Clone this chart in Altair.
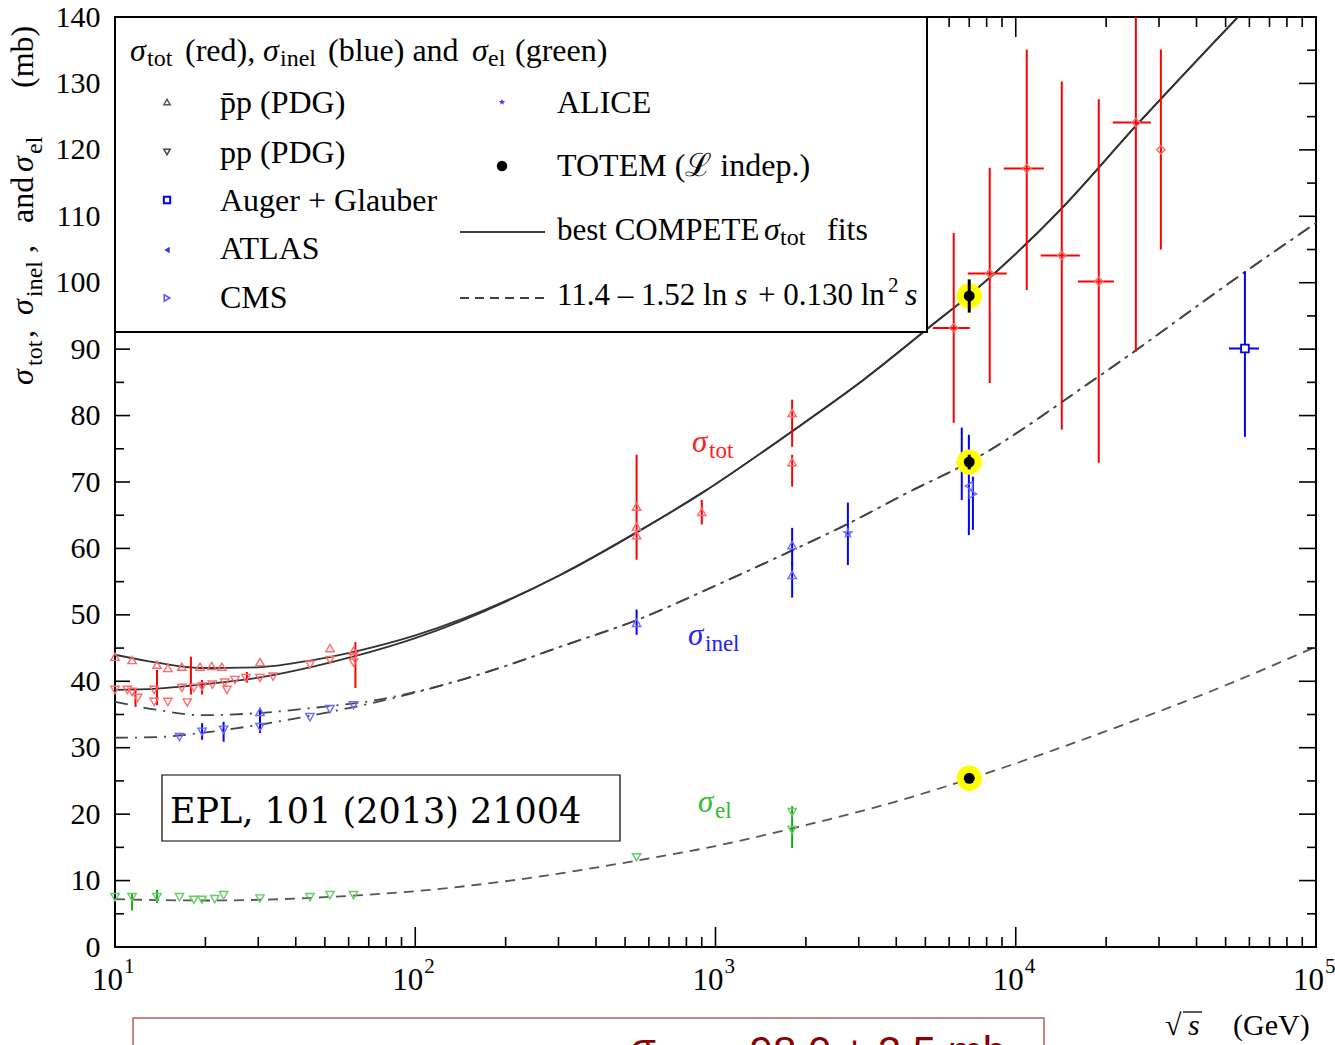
import altair as alt
import pandas as pd

W, H = 1201, 930          # plot area (px)
SERIF = "Liberation Serif"

# ---------------- fitted curves (sqrt(s) in GeV, cross sections in mb) ----------------
tot_fit_s = [10, 13.8, 19.2, 29.7, 45.7, 62, 100, 304, 541, 905, 1820, 3115,
             5290, 7000, 14230, 25120, 54950]
tot_fit_pbarp = [44.0, 42.8, 42.0, 42.1, 43.2, 44.4, 46.9, 56.0, 62.3, 68.4,
                 77.8, 85.4, 93.7, 98.1, 111.2, 123.6, 140.0]
tot_fit_pp = [38.7, 38.9, 39.5, 40.5, 42.2, 43.7, 46.5, 56.0, 62.3, 68.4,
              77.8, 85.4, 93.7, 98.1, 111.2, 123.6, 140.0]

inel_fit_s = [10, 13.8, 19.2, 29.7, 45.7, 74.7, 100, 200, 304, 546, 1000, 1820, 2818,
              4365, 7000, 18760, 57500, 100000]
inel_fit_pbarp = [36.9, 35.7, 34.9, 35.2, 36.0, 37.2, 38.4, 42.3, 45.2, 49.2, 54.4, 59.8,
                  63.9, 68.4, 73.0, 85.8, 101.5, 109.0]
inel_fit_pp = [31.5, 31.6, 32.2, 33.4, 34.9, 36.9, 38.3, 42.3, 45.2, 49.2, 54.4, 59.8,
               63.9, 68.4, 73.0, 85.8, 101.5, 109.0]

el_fit_s = [10, 20, 30, 50, 100, 200, 546, 1000, 1820, 4140, 7000, 19190, 50000, 100000]
el_fit = [7.2, 7.0, 7.1, 7.5, 8.4, 9.9, 13.0, 15.2, 17.9, 22.1, 25.3, 32.2, 39.4, 45.2]

# ---------------- measurements ----------------
# sigma_tot, pbar-p
tot_pbarp_s = [10, 11.4, 13.8, 15.0, 16.7, 19.2, 21.0, 22.7, 30.4, 52.0, 62.3,
               546, 546, 546, 900, 1800, 1800]
tot_pbarp_v = [43.7, 43.2, 42.5, 42.0, 42.2, 42.2, 42.3, 42.2, 42.9, 45.0, 44.6,
               66.3, 63.3, 62.0, 65.5, 80.4, 73.0]
# sigma_tot, p-p
tot_pp_s = [10, 11.0, 11.4, 11.9, 13.5, 13.5, 15.0, 16.7, 17.4, 18.3, 19.5, 21.1, 23.2,
            23.6, 25.1, 27.3, 30.4, 33.6, 44.6, 52.0, 62.3, 62.3]
tot_pp_v = [38.7, 38.7, 38.4, 37.5, 38.7, 36.9, 36.9, 39.0, 36.8, 39.0, 39.2, 39.5, 39.8,
            38.7, 40.2, 40.5, 40.5, 40.7, 42.5, 43.2, 43.7, 42.8]
tot_err_s = [11.7, 13.8, 17.9, 19.5, 27.5, 63.2, 546, 900, 1800, 1800]
tot_err_lo = [36.4, 36.4, 38.0, 38.0, 39.8, 39.0, 58.3, 63.6, 75.3, 69.3]
tot_err_hi = [39.0, 41.7, 43.7, 40.2, 41.4, 45.9, 74.1, 67.3, 82.4, 74.1]

# sigma_tot from cosmic rays (with energy ranges)
cr_s = [6215, 8190, 10880, 14230, 18900, 25120, 30430]
cr_v = [93.2, 101.4, 117.2, 104.1, 100.2, 124.1, 120.0]
cr_s_lo = [5290, 6920, 9120, 12110, 16100, 21040, 30430]
cr_s_hi = [7030, 9330, 12400, 16340, 21230, 28180, 30430]
cr_v_lo = [78.9, 84.9, 98.9, 77.9, 72.9, 89.6, 105.0]
cr_v_hi = [107.5, 117.3, 135.1, 130.3, 127.6, 140.0, 135.1]

# sigma_inel
inel_pp_s = [16.4, 19.5, 23.0, 30.4, 44.6, 52.0, 62.3]
inel_pp_v = [31.6, 32.4, 32.7, 33.1, 34.6, 35.8, 36.4]
inel_pbarp_s = [30.4, 546, 1800, 1800]
inel_pbarp_v = [35.4, 48.8, 60.5, 56.0]
inel_err_s = [19.5, 23.0, 30.4, 546, 1800, 1800]
inel_err_lo = [31.2, 30.9, 32.2, 47.0, 57.5, 52.6]
inel_err_hi = [33.7, 33.9, 36.0, 50.8, 63.1, 58.0]
alice_s, alice_v, alice_lo, alice_hi = [2760, 6610], [62.3, 72.7], [57.5, 67.3], [66.9, 78.2]
atlas_s, atlas_v, atlas_lo, atlas_hi = [6980], [69.4], [62.0], [77.1]
cms_s, cms_v, cms_lo, cms_hi = [7200], [68.2], [62.8], [70.8]
auger_s, auger_v = [57980], [90.1]
auger_s_lo, auger_s_hi = [51300], [64570]
auger_v_lo, auger_v_hi = [76.8], [101.7]

# sigma_el
el_s = [10, 11.4, 13.8, 16.4, 18.3, 19.5, 21.5, 23.0, 30.4, 44.6, 52.0, 62.3, 546, 1800, 1800]
el_v = [7.5, 7.5, 7.5, 7.5, 7.1, 7.1, 7.2, 7.8, 7.3, 7.5, 7.8, 7.8, 13.5, 20.3, 17.6]
el_err_s = [11.4, 13.8, 1800]
el_err_lo = [5.5, 6.6, 14.9]
el_err_hi = [8.1, 8.6, 21.2]

# TOTEM (luminosity independent), 7 TeV
totem_s = [7000, 7000, 7000]
totem_v = [98.0, 73.0, 25.4]
totem_lo = [95.5, 71.9, 24.9]
totem_hi = [100.5, 74.1, 25.9]

# axis ticks
x_major = [10, 100, 1000, 10000, 100000]
x_exp = ["1", "2", "3", "4", "5"]
x_minor = [m * 10 ** d for d in range(1, 5) for m in range(2, 10)]
y_major = list(range(0, 141, 10))
y_minor = list(range(5, 140, 10))

RED, PINK = "#ff0000", "#ff6b6b"
BLUE, LBLUE = "#0000ff", "#6b6bff"
GREEN, LGREEN = "#11aa11", "#66cc66"
STAR = "M0,-1L0.2245,-0.309L0.951,-0.309L0.363,0.118L0.588,0.809L0,0.382L-0.588,0.809L-0.363,0.118L-0.951,-0.309L-0.2245,-0.309Z"

# ---------------- tables ----------------
curves = pd.concat([
    pd.DataFrame({"s": tot_fit_s, "v": tot_fit_pbarp, "branch": "tot_pbarp", "kind": "tot"}),
    pd.DataFrame({"s": tot_fit_s, "v": tot_fit_pp, "branch": "tot_pp", "kind": "tot"}),
    pd.DataFrame({"s": inel_fit_s, "v": inel_fit_pbarp, "branch": "inel_pbarp", "kind": "inel"}),
    pd.DataFrame({"s": inel_fit_s, "v": inel_fit_pp, "branch": "inel_pp", "kind": "inel"}),
    pd.DataFrame({"s": el_fit_s, "v": el_fit, "branch": "el", "kind": "el"}),
], ignore_index=True)

vbars = pd.concat([
    pd.DataFrame({"s": tot_err_s, "lo": tot_err_lo, "hi": tot_err_hi, "col": RED}),
    pd.DataFrame({"s": cr_s, "lo": cr_v_lo, "hi": cr_v_hi, "col": RED}),
    pd.DataFrame({"s": inel_err_s, "lo": inel_err_lo, "hi": inel_err_hi, "col": BLUE}),
    pd.DataFrame({"s": alice_s, "lo": alice_lo, "hi": alice_hi, "col": BLUE}),
    pd.DataFrame({"s": atlas_s, "lo": atlas_lo, "hi": atlas_hi, "col": BLUE}),
    pd.DataFrame({"s": cms_s, "lo": cms_lo, "hi": cms_hi, "col": BLUE}),
    pd.DataFrame({"s": auger_s, "lo": auger_v_lo, "hi": auger_v_hi, "col": BLUE}),
    pd.DataFrame({"s": el_err_s, "lo": el_err_lo, "hi": el_err_hi, "col": GREEN}),
], ignore_index=True)

hbars = pd.concat([
    pd.DataFrame({"lo": cr_s_lo, "hi": cr_s_hi, "v": cr_v, "col": RED}),
    pd.DataFrame({"lo": auger_s_lo, "hi": auger_s_hi, "v": auger_v, "col": BLUE}),
], ignore_index=True)

markers = pd.concat([
    pd.DataFrame({"s": tot_pbarp_s, "v": tot_pbarp_v, "shape": "triangle-up", "col": PINK}),
    pd.DataFrame({"s": tot_pp_s, "v": tot_pp_v, "shape": "triangle-down", "col": PINK}),
    pd.DataFrame({"s": cr_s, "v": cr_v, "shape": "diamond", "col": PINK}),
    pd.DataFrame({"s": inel_pp_s, "v": inel_pp_v, "shape": "triangle-down", "col": LBLUE}),
    pd.DataFrame({"s": inel_pbarp_s, "v": inel_pbarp_v, "shape": "triangle-up", "col": LBLUE}),
    pd.DataFrame({"s": alice_s, "v": alice_v, "shape": STAR, "col": LBLUE}),
    pd.DataFrame({"s": atlas_s, "v": atlas_v, "shape": "triangle-left", "col": LBLUE}),
    pd.DataFrame({"s": cms_s, "v": cms_v, "shape": "triangle-right", "col": LBLUE}),
    pd.DataFrame({"s": el_s, "v": el_v, "shape": "triangle-down", "col": LGREEN}),
], ignore_index=True)

auger = pd.DataFrame({"s": auger_s, "v": auger_v})
totem = pd.DataFrame({"s": totem_s, "v": totem_v, "lo": totem_lo, "hi": totem_hi})

# ---------------- scales / encodings ----------------
xs = alt.Scale(type="log", domain=[10, 100000], nice=False)
ys = alt.Scale(domain=[0, 140], nice=False, zero=False)
yaxis = alt.Axis(values=y_major, ticks=False, domain=False, grid=False,
                 labelFont=SERIF, labelFontSize=30, labelColor="black",
                 labelPadding=15, labelFlush=False, labelOverlap=False)


def X(f="s"):
    return alt.X(f"{f}:Q", scale=xs, axis=None)


def Y(f="v"):
    return alt.Y(f"{f}:Q", scale=ys, axis=yaxis, title=None)


layers = []

# fit curves
layers.append(alt.Chart(curves[curves.kind == "tot"]).mark_line(
    color="#333333", strokeWidth=1.8, interpolate="monotone", clip=True
).encode(x=X(), y=Y(), detail="branch:N"))
layers.append(alt.Chart(curves[curves.kind == "inel"]).mark_line(
    color="#444444", strokeWidth=1.8, strokeDash=[13, 7, 2, 7], interpolate="monotone", clip=True
).encode(x=X(), y=Y(), detail="branch:N"))
layers.append(alt.Chart(curves[curves.kind == "el"]).mark_line(
    color="#555555", strokeWidth=1.8, strokeDash=[10, 7], interpolate="monotone", clip=True
).encode(x=X(), y=Y(), detail="branch:N"))

# error bars
layers.append(alt.Chart(vbars).mark_rule(strokeWidth=2, clip=True).encode(
    x=X(), y=Y("lo"), y2="hi:Q", color=alt.Color("col:N", scale=None)))
layers.append(alt.Chart(hbars).mark_rule(strokeWidth=2, clip=True).encode(
    x=X("lo"), x2="hi:Q", y=Y(), color=alt.Color("col:N", scale=None)))

# data markers
layers.append(alt.Chart(markers).mark_point(filled=False, size=70, strokeWidth=1.4, opacity=1).encode(
    x=X(), y=Y(), shape=alt.Shape("shape:N", scale=None), color=alt.Color("col:N", scale=None)))
layers.append(alt.Chart(auger).mark_point(shape="square", filled=True, fill="white", stroke=BLUE,
                                          strokeWidth=1.8, size=60, opacity=1).encode(x=X(), y=Y()))

# TOTEM points highlighted
layers.append(alt.Chart(totem).mark_circle(color="#ffff00", size=640, opacity=1).encode(x=X(), y=Y()))
layers.append(alt.Chart(totem).mark_rule(color="black", strokeWidth=3).encode(x=X(), y=Y("lo"), y2="hi:Q"))
layers.append(alt.Chart(totem).mark_circle(color="black", size=120, opacity=1).encode(x=X(), y=Y()))

# ticks on all four sides, pointing inwards
xmaj = pd.DataFrame({"s": x_major, "exp": x_exp})
xmin = pd.DataFrame({"s": x_minor})
ymaj = pd.DataFrame({"v": y_major})
ymin = pd.DataFrame({"v": y_minor})
TK = dict(color="black", strokeWidth=1.6)
layers += [
    alt.Chart(xmaj).mark_rule(**TK).encode(x=X(), y=alt.value(H), y2=alt.value(H - 20)),
    alt.Chart(xmin).mark_rule(**TK).encode(x=X(), y=alt.value(H), y2=alt.value(H - 10)),
    alt.Chart(xmaj).mark_rule(**TK).encode(x=X(), y=alt.value(0), y2=alt.value(20)),
    alt.Chart(xmin).mark_rule(**TK).encode(x=X(), y=alt.value(0), y2=alt.value(10)),
    alt.Chart(ymaj).mark_rule(**TK).encode(y=Y(), x=alt.value(0), x2=alt.value(15)),
    alt.Chart(ymin).mark_rule(**TK).encode(y=Y(), x=alt.value(0), x2=alt.value(9)),
    alt.Chart(ymaj).mark_rule(**TK).encode(y=Y(), x=alt.value(W), x2=alt.value(W - 17)),
    alt.Chart(ymin).mark_rule(**TK).encode(y=Y(), x=alt.value(W), x2=alt.value(W - 9)),
]

# x tick labels 10^n
layers.append(alt.Chart(xmaj).mark_text(align="right", baseline="alphabetic", dx=8, font=SERIF,
                                        fontSize=31, color="black").encode(
    x=X(), y=alt.value(H + 43), text=alt.value("10")))
layers.append(alt.Chart(xmaj).mark_text(align="left", baseline="alphabetic", dx=9, font=SERIF,
                                        fontSize=21, color="black").encode(
    x=X(), y=alt.value(H + 26), text="exp:N"))

one = pd.DataFrame({"k": [0]})


def txt(t, x, y, size=32, style="normal", color="black", font=SERIF, angle=0):
    return alt.Chart(one).mark_text(text=t, font=font, fontSize=size, fontStyle=style, color=color,
                                    angle=angle, align="left", baseline="alphabetic").encode(
        x=alt.value(x), y=alt.value(y))


def box(x, x2, y, y2, stroke="black", sw=2, fill="white"):
    return alt.Chart(one).mark_rect(fill=fill, stroke=stroke, strokeWidth=sw, opacity=1).encode(
        x=alt.value(x), x2=alt.value(x2), y=alt.value(y), y2=alt.value(y2))


def sym(x, y, shape, color, filled=False, size=45, sw=1.5):
    return alt.Chart(one).mark_point(shape=shape, filled=filled, color=color, size=size,
                                     strokeWidth=sw, opacity=1).encode(x=alt.value(x), y=alt.value(y))


# curve labels inside the plot
layers += [
    txt("σ", 577, 435, size=31, style="italic", color="#ff2020"),
    txt("tot", 594, 441, size=23, color="#ff2020"),
    txt("σ", 573, 628, size=31, style="italic", color="#2222ff"),
    txt("inel", 590, 634, size=23, color="#2222ff"),
    txt("σ", 583, 795, size=31, style="italic", color="#33bb33"),
    txt("el", 600, 801, size=23, color="#33bb33"),
]

# legend box
layers.append(box(0, 812, 0, 315))
layers += [
    txt("σ", 15, 44, style="italic"), txt("tot", 32, 49, size=24), txt("(red),", 70, 44),
    txt("σ", 148, 44, style="italic"), txt("inel", 165, 49, size=24), txt("(blue) and", 213, 44),
    txt("σ", 357, 44, style="italic"), txt("el", 373, 49, size=24), txt("(green)", 400, 44),
    txt("p\u0304p (PDG)", 105, 96), txt("pp (PDG)", 105, 146), txt("Auger + Glauber", 105, 194),
    txt("ATLAS", 105, 242), txt("CMS", 105, 291),
    txt("ALICE", 442, 96), txt("TOTEM (ℒ indep.)", 442, 159),
    txt("best COMPETE", 442, 223, size=31), txt("σ", 649, 223, style="italic"),
    txt("tot", 665, 228, size=24), txt("fits", 712, 223),
    txt("11.4 – 1.52 ln", 442, 288, size=31), txt("s", 620, 288, style="italic"),
    txt("+ 0.130 ln", 643, 288, size=31),
    txt("2", 773, 275, size=21), txt("s", 790, 288, style="italic"),
    sym(52, 85, "triangle-up", "#555555", size=40), sym(52, 135, "triangle-down", "#444444", size=40),
    sym(52, 183, "square", BLUE, size=40, sw=2), sym(52, 233, "triangle-left", "#3333ff", filled=True, size=40),
    sym(52, 281, "triangle-right", "#5555ff", size=40), sym(387, 85, STAR, "#3333ff", filled=True, size=50),
    sym(387, 149, "circle", "black", filled=True, size=110),
    alt.Chart(one).mark_rule(color="black", strokeWidth=1.6).encode(
        x=alt.value(345), x2=alt.value(430), y=alt.value(215)),
    alt.Chart(one).mark_rule(color="black", strokeWidth=1.6, strokeDash=[9, 6]).encode(
        x=alt.value(345), x2=alt.value(430), y=alt.value(281)),
]

# reference box
layers.append(box(47, 505, 758, 824, sw=1.2))
layers.append(txt("EPL, 101 (2013) 21004", 55, 806, size=35, font="DejaVu Serif"))

# y-axis title (rotated pieces)
layers += [
    txt("σ", -82, 368, size=32, style="italic", angle=270), txt("tot", -73, 349, size=24, angle=270),
    txt(",", -82, 321, size=32, angle=270),
    txt("σ", -82, 298, size=32, style="italic", angle=270), txt("inel", -73, 280, size=24, angle=270),
    txt(",", -82, 236, size=32, angle=270), txt("and", -82, 206, size=32, angle=270),
    txt("σ", -82, 155, size=32, style="italic", angle=270), txt("el", -73, 137, size=24, angle=270),
    txt("(mb)", -82, 71, size=32, angle=270),
]

# x-axis title
layers += [
    txt("√", 1050, 1018, size=30), txt("s", 1073, 1018, size=30, style="italic"),
    alt.Chart(one).mark_rule(color="black", strokeWidth=1.3).encode(
        x=alt.value(1068), x2=alt.value(1087), y=alt.value(995)),
    txt("(GeV)", 1118, 1018, size=30),
]

# result box below the plot (runs past the bottom edge)
layers.append(box(18, 929, 1001, 1090, stroke="#b06060", sw=1.5, fill="white"))
layers += [
    txt("σ", 515, 1046, size=42, color="#8b0000", font="Liberation Sans"),
    txt("tot", 540, 1058, size=28, color="#8b0000", font="Liberation Sans"),
    txt("=98.0 ± 2.5 mb", 610, 1049, size=42, color="#8b0000", font="Liberation Sans"),
]

chart = alt.layer(*layers).properties(
    width=W, height=H,
    autosize=alt.AutoSizeParams(type="none"),
    padding={"left": 115, "top": 17, "right": 19, "bottom": 98},
).configure_view(stroke="black", strokeWidth=2)

chart.save("out.html", embed_options={"renderer": "svg", "actions": False})
